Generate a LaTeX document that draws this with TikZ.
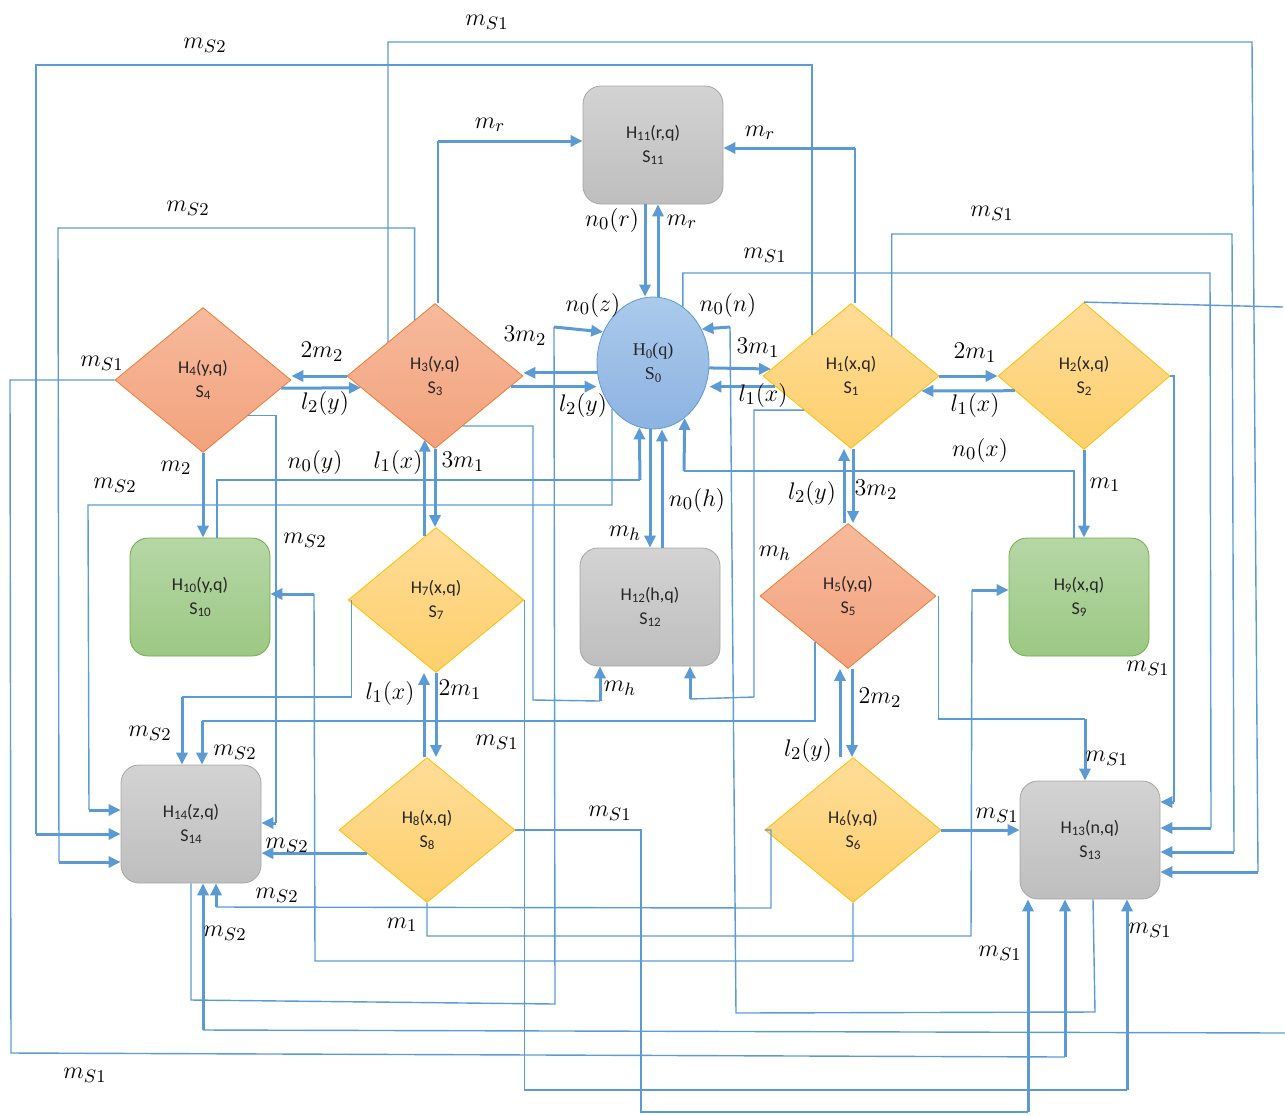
\documentclass[tikz,border=0pt]{standalone}
\usepackage{fontspec}
\newfontfamily\boxfont{Carlito}
\newfontfamily\ovalfont{Liberation Serif}
\usetikzlibrary{arrows.meta,shapes.geometric}

\definecolor{linkblue}{HTML}{5B9BD5}
\definecolor{greytop}{HTML}{D3D3D3}
\definecolor{greybot}{HTML}{BEBEBE}
\definecolor{greyline}{HTML}{A6A6A6}
\definecolor{greentop}{HTML}{B5D7A5}
\definecolor{greenbot}{HTML}{9CC884}
\definecolor{greenline}{HTML}{70AD47}
\definecolor{yellowtop}{HTML}{FFDC98}
\definecolor{yellowbot}{HTML}{FDD06C}
\definecolor{yellowline}{HTML}{FFC000}
\definecolor{salmontop}{HTML}{F6BA9C}
\definecolor{salmonbot}{HTML}{F3A27D}
\definecolor{salmonline}{HTML}{ED7D31}
\definecolor{ovaltop}{HTML}{ABCAEB}
\definecolor{ovalbot}{HTML}{8DB3E2}

\newcommand{\lowsub}[1]{\raisebox{-0.3ex}{\fontsize{6.5}{6.5}\selectfont #1}}

\begin{document}
\begin{tikzpicture}[x=0.5pt,y=-0.5pt,
  wire/.style={linkblue,line width=0.7pt},
  arr/.style={linkblue,line width=1.5pt,-{Triangle[length=6pt,width=5.5pt]}},
  lbl/.style={font=\fontsize{13}{15}\selectfont,inner sep=0pt},
  hbox/.style={rectangle,rounded corners=9pt,minimum width=70pt,minimum height=59pt,
    align=center,text=black!85,font=\boxfont\fontsize{9}{12}\selectfont},
  hdia/.style={diamond,minimum width=88pt,minimum height=72.5pt,inner sep=0pt,
    align=center,text=black!85,font=\boxfont\fontsize{9}{12}\selectfont},
  greybox/.style={hbox,draw=greyline,top color=greytop,bottom color=greybot},
  greenbox/.style={hbox,draw=greenline,top color=greentop,bottom color=greenbot},
  yellowdia/.style={hdia,draw=yellowline,top color=yellowtop,bottom color=yellowbot},
  salmondia/.style={hdia,draw=salmonline,top color=salmontop,bottom color=salmonbot}]
  \useasboundingbox (0,0) rectangle (1285,1115);

  % states
  \node[greybox] (S11) at (653,145) {H\lowsub{11}(r,q)\\S\lowsub{11}};
  \node[ellipse,draw=linkblue,top color=ovaltop,bottom color=ovalbot,minimum width=56pt,
    minimum height=66pt,inner sep=0pt,align=center,text=black!85,
    font=\ovalfont\fontsize{9}{12}\selectfont] (S0) at (653,363) {H\lowsub{0}(q)\\S\lowsub{0}};
  \node[yellowdia] (S1) at (851,376) {H\lowsub{1}(x,q)\\S\lowsub{1}};
  \node[yellowdia,minimum width=86pt,minimum height=73.5pt] (S2) at (1084,376) {H\lowsub{2}(x,q)\\S\lowsub{2}};
  \node[salmondia] (S3) at (435,376) {H\lowsub{3}(y,q)\\S\lowsub{3}};
  \node[salmondia] (S4) at (203,380) {H\lowsub{4}(y,q)\\S\lowsub{4}};
  \node[salmondia] (S5) at (848,596) {H\lowsub{5}(y,q)\\S\lowsub{5}};
  \node[yellowdia] (S6) at (853,830) {H\lowsub{6}(y,q)\\S\lowsub{6}};
  \node[yellowdia] (S7) at (436,600) {H\lowsub{7}(x,q)\\S\lowsub{7}};
  \node[yellowdia] (S8) at (427,830) {H\lowsub{8}(x,q)\\S\lowsub{8}};
  \node[greenbox] (S9) at (1079,597) {H\lowsub{9}(x,q)\\S\lowsub{9}};
  \node[greenbox] (S10) at (200,597) {H\lowsub{10}(y,q)\\S\lowsub{10}};
  \node[greybox] (S12) at (650,607) {H\lowsub{12}(h,q)\\S\lowsub{12}};
  \node[greybox] (S13) at (1090,840) {H\lowsub{13}(n,q)\\S\lowsub{13}};
  \node[greybox] (S14) at (191,824) {H\lowsub{14}(z,q)\\S\lowsub{14}};

  % free ends at the right and bottom
  \coordinate (eR1) at (1283,307);
  \coordinate (eR2) at (1285,1033);

  % direct transitions
  \draw[arr] ([xshift=-4pt]S11.south) -- ([xshift=-4pt]S0.north);
  \draw[arr] ([xshift=2.5pt]S0.north) -- ([xshift=2.5pt]S11.south);
  \draw[arr] (S3.west) -- (S3.west -| S4.east);
  \draw[arr] (S4.-6) -- (S3.189);
  \draw[arr] (S0.190) -- (S0.190 -| S3.east);
  \draw[arr] (S3.-8) -- (S3.-8 -| S0.west);
  \draw[arr] (S0.-5) -- (S1.175);
  \draw[arr] (S1.188) -- (S1.188 -| S0.east);
  \draw[arr] (S1.east) -- (S2.west);
  \draw[arr] (S2.192) -- (S1.-12);
  \draw[arr] (S2.south) -- (S2.south |- S9.north);
  \draw[arr] (S4.south) -- (S4.south |- S10.north);
  \draw[arr] (S7.100) -- (S7.100 |- S3.260);
  \draw[arr] (S3.south) -- (S3.south |- S7.north);
  \draw[arr] ([xshift=-1.5pt]S8.north) -- ([xshift=-1.5pt]S8.north |- S7.south);
  \draw[arr] (S7.south) -- (S7.south |- S8.north);
  \draw[arr] ([xshift=-2pt]S5.north) -- ([xshift=-2pt]S5.north |- S1.south);
  \draw[arr] ([xshift=1pt]S1.south) -- ([xshift=1pt]S1.south |- S5.north);
  \draw[arr] ([xshift=-6.5pt]S6.north) -- ([xshift=-6.5pt]S6.north |- S5.south);
  \draw[arr] ([xshift=2pt]S5.south) -- ([xshift=2pt]S5.south |- S6.north);
  \draw[arr] ([xshift=-1.5pt]S0.south) -- ([xshift=-1.5pt]S0.south |- S12.north);
  \draw[arr] ([xshift=6pt]S12.north) -- ([xshift=6pt]S12.north |- S0.south);
  \draw[arr] (S8.201) -- (S8.201 -| S14.east);
  \draw[arr] (S6.east) -- (S6.east -| S13.west);

  % routed transitions
  \draw[wire] ([xshift=1.5pt]S3.north) -- (438,141) coordinate (r1);
  \draw[arr] (r1) -- (S11.west |- r1);
  \draw[wire] ([xshift=2pt]S1.north) -- (855,148) coordinate (r2);
  \draw[arr] (r2) -- (S11.east |- r2);
  \draw[wire] (S14.south) -- (191,1000) -- (555,1004) -- (554,327) coordinate (nz);
  \draw[arr] (nz) -- (S0.148);
  \draw[wire] ([xshift=1.5pt]S13.south) -- (1095,1012) -- (736,1013) -- (730,327) coordinate (nn);
  \draw[arr] (nn) -- (S0.35);
  \draw[wire] ([xshift=8.5pt]S10.north) |- (640,480) coordinate (ny);
  \draw[arr] (ny) -- (S0.258);
  \draw[wire] ([xshift=-2.5pt]S9.north) |- (684,471) coordinate (nx);
  \draw[arr] (nx) -- (S0.-60);
  \draw[wire] (S3.-61) -| (533,700) -- (600,701) coordinate (mh1);
  \draw[arr] (mh1) -- (mh1 |- S12.south);
  \draw[wire] (S1.216) -| (754,697) -- (690,699) coordinate (mh2);
  \draw[arr] (mh2) -- (mh2 |- S12.south);
  \draw[wire] (S0.228) |- (88,505) -- (89,810) coordinate (w3);
  \draw[arr] (w3) -- (S14.west |- w3);
  \draw[wire] (S1.134) |- (36,65) -- (36,834) coordinate (w1);
  \draw[arr] (w1) -- (S14.west |- w1);
  \draw[wire] (S3.110) |- (58,228) -- (59,862) coordinate (w2);
  \draw[arr] (w2) -- (S14.west |- w2);
  \draw[wire] (S3.144) |- (1252,42) -- (1258,872) coordinate (t1);
  \draw[arr] (t1) -- (S13.east |- t1);
  \draw[wire] (S1.44) |- (1232,234) -- (1234,852) coordinate (t2);
  \draw[arr] (t2) -- (S13.east |- t2);
  \draw[wire] (S0.62) |- (1210,273) -- (1211,828) coordinate (t3);
  \draw[arr] (t3) -- (S13.east |- t3);
  \draw[wire] (S2.east) -| (1174,802) coordinate (t4);
  \draw[arr] (t4) -- (S13.east |- t4);
  \draw[wire] (S2.north) -- (eR1);
  \draw[wire] (S4.west) -- (10,380) -- (11,1053) -- (1065,1057) coordinate (e3);
  \draw[arr] (e3) -- (e3 |- S13.south);
  \draw[wire] (eR2) -- (203,1030) coordinate (b1);
  \draw[arr] (b1) -- (b1 |- S14.south);
  \draw[wire] (S6.west) -| (771,908) -- (216,907) coordinate (b2);
  \draw[arr] (b2) -- (b2 |- S14.south);
  \draw[wire] (S8.south) |- (971,936) -- (972,590) coordinate (c1);
  \draw[arr] (c1) -- (S9.west |- c1);
  \draw[wire] (S6.south) |- (315,961) -- (314,594) coordinate (c2);
  \draw[arr] (c2) -- (S10.east |- c2);
  \draw[wire] (S4.-38) -| (276,823) coordinate (c3);
  \draw[arr] (c3) -- (S14.east |- c3);
  \draw[wire] ([xshift=2pt]S7.west) |- (182,697) coordinate (d1);
  \draw[arr] (d1) -- (d1 |- S14.north);
  \draw[wire] (S5.234) |- (202,721) coordinate (d2);
  \draw[arr] (d2) -- (d2 |- S14.north);
  \draw[wire] ([xshift=1pt]S5.east) |- (1085,719) coordinate (d3);
  \draw[arr] (d3) -- (d3 |- S13.north);
  \draw[wire] (S7.east) |- (1127,1090) coordinate (e1);
  \draw[arr] (e1) -- (e1 |- S13.south);
  \draw[wire] (S8.east) -| (641,1112) -- (1028,1112) coordinate (e2);
  \draw[arr] (e2) -- (e2 |- S13.south);

  % rates
  \node[lbl] (la1) at (487,22) {$m_{S1}$};
  \node[lbl] (la2) at (205,45) {$m_{S2}$};
  \node[lbl] (la3) at (490,125) {$m_r$};
  \node[lbl] (la4) at (760,133) {$m_r$};
  \node[lbl] (la5) at (992,213) {$m_{S1}$};
  \node[lbl] (la6) at (188,208) {$m_{S2}$};
  \node[lbl] (la7) at (612,220) {$n_0(r)$};
  \node[lbl] (la8) at (682,222) {$m_r$};
  \node[lbl] (la9) at (765,255) {$m_{S1}$};
  \node[lbl] (lb1) at (593,305) {$n_0(z)$};
  \node[lbl] (lb2) at (728,305) {$n_0(n)$};
  \node[lbl] (lb3) at (525,336) {$3m_2$};
  \node[lbl] (lb4) at (758,348) {$3m_1$};
  \node[lbl] (lb5) at (322,352) {$2m_2$};
  \node[lbl] (lb6) at (975,353) {$2m_1$};
  \node[lbl] (lb7) at (102,363) {$m_{S1}$};
  \node[lbl] (lb8) at (325,403) {$l_2(y)$};
  \node[lbl] (lb9) at (583,405) {$l_2(y)$};
  \node[lbl] (lc1) at (763,395) {$l_1(x)$};
  \node[lbl] (lc2) at (975,405) {$l_1(x)$};
  \node[lbl] (lc3) at (980,450) {$n_0(x)$};
  \node[lbl] (lc4) at (315,462) {$n_0(y)$};
  \node[lbl] (lc5) at (398,462) {$l_1(x)$};
  \node[lbl] (lc6) at (463,462) {$3m_1$};
  \node[lbl] (lc7) at (176,468) {$m_2$};
  \node[lbl] (lc8) at (115,485) {$m_{S2}$};
  \node[lbl] (lc9) at (1105,485) {$m_1$};
  \node[lbl] (ld1) at (812,493) {$l_2(y)$};
  \node[lbl] (ld2) at (876,490) {$3m_2$};
  \node[lbl] (ld3) at (697,500) {$n_0(h)$};
  \node[lbl] (ld4) at (625,533) {$m_h$};
  \node[lbl] (ld5) at (305,540) {$m_{S2}$};
  \node[lbl] (ld6) at (775,553) {$m_h$};
  \node[lbl] (ld7) at (1148,668) {$m_{S1}$};
  \node[lbl] (ld8) at (390,693) {$l_1(x)$};
  \node[lbl] (ld9) at (460,690) {$2m_1$};
  \node[lbl] (le1) at (620,688) {$m_h$};
  \node[lbl] (le2) at (880,698) {$2m_2$};
  \node[lbl] (le3) at (150,733) {$m_{S2}$};
  \node[lbl] (le4) at (497,742) {$m_{S1}$};
  \node[lbl] (le5) at (808,750) {$l_2(y)$};
  \node[lbl] (le6) at (235,752) {$m_{S2}$};
  \node[lbl] (le7) at (1107,758) {$m_{S1}$};
  \node[lbl] (le8) at (610,813) {$m_{S1}$};
  \node[lbl] (le9) at (997,815) {$m_{S1}$};
  \node[lbl] (lf1) at (287,845) {$m_{S2}$};
  \node[lbl] (lf2) at (277,895) {$m_{S2}$};
  \node[lbl] (lf3) at (402,925) {$m_1$};
  \node[lbl] (lf4) at (225,933) {$m_{S2}$};
  \node[lbl] (lf5) at (1150,930) {$m_{S1}$};
  \node[lbl] (lf6) at (1000,953) {$m_{S1}$};
  \node[lbl] (lf7) at (85,1075) {$m_{S1}$};
\end{tikzpicture}
\end{document}
